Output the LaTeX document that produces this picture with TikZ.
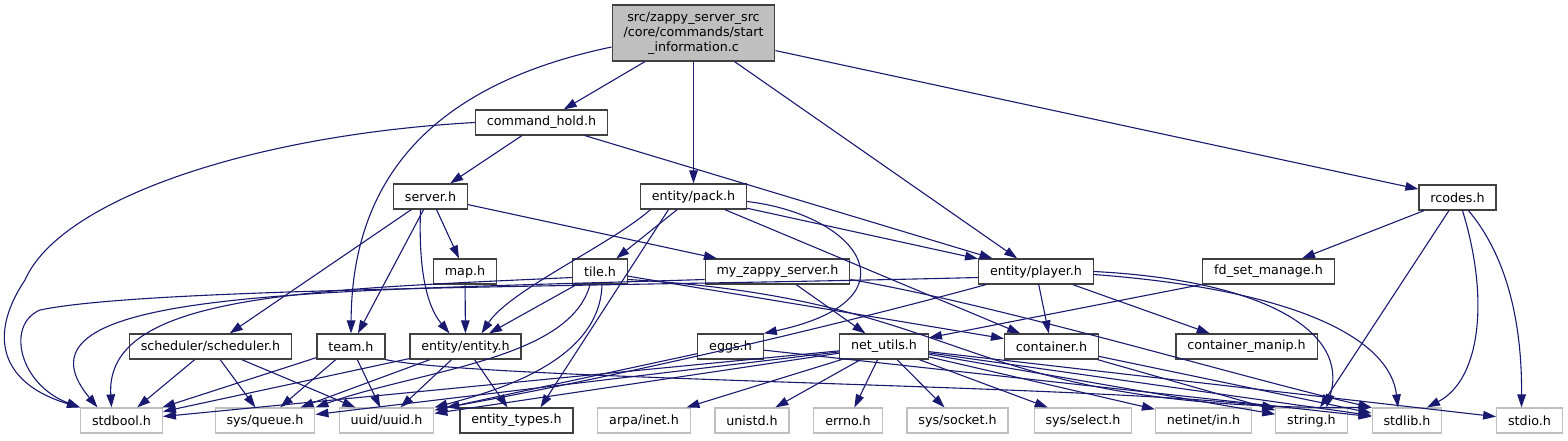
\documentclass[tikz,border=0pt]{standalone}
\usepackage{fontspec}
\setmainfont{DejaVu Sans}
\usetikzlibrary{arrows.meta,calc}
\definecolor{edgeblue}{RGB}{25,25,112}
\definecolor{boxgray}{RGB}{191,191,191}
\definecolor{boxline}{RGB}{64,64,64}

\begin{document}
\begin{tikzpicture}[
  x=0.5pt, y=-0.5pt,
  >={Triangle[length=6.5pt,width=4.3pt]},
  every node/.style={font=\fontsize{6.35}{7.5}\selectfont},
  filebox/.style={rectangle, draw=boxline, fill=white, line width=0.6pt, inner xsep=5.7pt, inner ysep=0pt, minimum height=12.5pt},
  sysbox/.style={filebox, draw=boxgray},
  rootbox/.style={filebox, fill=boxgray, align=center, minimum height=28pt},
  incl/.style={->, draw=edgeblue, line width=0.55pt},
]
\useasboundingbox (0,0) rectangle (1568,440);

% ---- level 0: the source file ----
\node[rootbox] (root) at (693.5,33) {src/zappy\_server\_src\\/core/commands/start\\\_information.c};

% ---- level 1 ----
\node[filebox] (cmdhold) at (541.5,122.5) {command\_hold.h};

% ---- level 2 ----
\node[filebox] (server) at (430.5,196.5) {server.h};
\node[filebox] (pack)   at (693.5,196.5) {entity/pack.h};
\node[filebox] (rcodes) at (1457.5,197.5) {rcodes.h};

% ---- level 3 ----
\node[filebox] (map)     at (465,271.5)    {map.h};
\node[filebox] (tile)    at (600,271.5)    {tile.h};
\node[filebox] (myzappy) at (777.5,271.5)  {my\_zappy\_server.h};
\node[filebox] (player)  at (1036,271.5)   {entity/player.h};
\node[filebox] (fdset)   at (1268.5,271.5) {fd\_set\_manage.h};

% ---- level 4 ----
\node[filebox] (scheduler) at (210.5,346.5)  {scheduler/scheduler.h};
\node[filebox] (team)      at (351,346.5)    {team.h};
\node[filebox] (entity)    at (465.5,346.5)  {entity/entity.h};
\node[filebox] (eggs)      at (730.5,346.5)  {eggs.h};
\node[filebox] (netutils)  at (884,346.5)    {net\_utils.h};
\node[filebox] (container) at (1051.5,346.5) {container.h};
\node[filebox] (contmanip) at (1246.5,346.5) {container\_manip.h};

% ---- level 5: system headers ----
\node[sysbox]  (stdbool)   at (121.5,420.5)  {stdbool.h};
\node[sysbox]  (sysqueue)  at (265,420.5)    {sys/queue.h};
\node[sysbox]  (uuid)      at (386.5,420.5)  {uuid/uuid.h};
\node[filebox] (etypes)    at (516.5,420.5)  {entity\_types.h};
\node[sysbox]  (arpainet)  at (644,420.5)    {arpa/inet.h};
\node[sysbox]  (unistd)    at (752,420.5)    {unistd.h};
\node[sysbox]  (errno)     at (848,420.5)    {errno.h};
\node[sysbox]  (syssocket) at (957.5,420.5)  {sys/socket.h};
\node[sysbox]  (sysselect) at (1083,420.5)   {sys/select.h};
\node[sysbox]  (netinetin) at (1203.5,420.5) {netinet/in.h};
\node[sysbox]  (stringh)   at (1311.5,420.5) {string.h};
\node[sysbox]  (stdlib)    at (1407,420.5)   {stdlib.h};
\node[sysbox]  (stdio)     at (1529.5,420.5) {stdio.h};

% ---- includes of the source file ----
\draw[incl] (root) -- (cmdhold);
\draw[incl] (root) -- (pack);
\draw[incl] (root) -- (player);
\draw[incl] (root) -- (rcodes);
\draw[incl] ([yshift=-7pt]root.west) .. controls (430,85) and (352,180) .. (team.north);

% ---- command_hold.h ----
\draw[incl] (cmdhold) -- (server);
\draw[incl] (cmdhold) -- (player);
\draw[incl] (cmdhold.west) .. controls (250,135) and (60,200) .. (25,280)
  .. controls (-15,340) and (5,385) .. (stdbool.north west);

% ---- server.h ----
\draw[incl] (server) -- (scheduler);
\draw[incl] (server) -- (team);
\draw[incl] (server) -- (map);
\draw[incl] (server) -- (myzappy);
\draw[incl] ($(server.south)+(-10,0)$) .. controls (418,280) and (430,310) .. ($(entity.north)+(-16,0)$);

% ---- entity/pack.h ----
\draw[incl] (pack) -- (tile);
\draw[incl] (pack) -- (player);
\draw[incl] (pack) -- (container);
\draw[incl] ($(pack.south)+(-25,0)$) -- ($(etypes.north)+(24,0)$);
\draw[incl] ($(pack.south)+(-43,0)$) .. controls (610,245) and (510,290) .. ($(entity.north)+(16,0)$);
\draw[incl] ([yshift=-2.5pt]pack.east) .. controls (860,215) and (920,300) .. (eggs.north east);

% ---- rcodes.h ----
\draw[incl] (rcodes) -- (fdset);
\draw[incl] (rcodes) -- (stringh);
\draw[incl] ($(rcodes.south)+(5,0)$) .. controls (1490,300) and (1480,380) .. ($(stdlib.north)+(20,0)$);
\draw[incl] ($(rcodes.south)+(11,0)$) .. controls (1510,260) and (1522,330) .. ($(stdio.north)+(-8,0)$);

% ---- map.h, fd_set_manage.h, my_zappy_server.h ----
\draw[incl] (map) -- (entity);
\draw[incl] (fdset) -- (netutils);
\draw[incl] (myzappy) -- (netutils);
\draw[incl] ([yshift=-4pt]myzappy.east) .. controls (1000,305) and (1250,380) .. (stdlib.north west);
\draw[incl] ([yshift=-4pt]myzappy.west) .. controls (300,292) and (0,290) .. ($(stdbool.north)+(-24,0)$);

% ---- tile.h ----
\draw[incl] (tile) -- (entity);
\draw[incl] (tile) -- (container);
\draw[incl] ([yshift=-4pt]tile.east) .. controls (980,300) and (950,410) .. (stdlib.north west);
\draw[incl] ([yshift=-3pt]tile.west) .. controls (300,290) and (105,295) .. ($(stdbool.north)+(-10,0)$);
\draw[incl] ($(tile.south)+(-10,0)$) .. controls (570,360) and (420,370) .. (sysqueue.north east);
\draw[incl] ($(tile.south)+(2,0)$) .. controls (600,360) and (500,390) .. (uuid.north east);

% ---- entity/player.h ----
\draw[incl] (player) -- (container);
\draw[incl] (player) -- (contmanip);
\draw[incl] ([yshift=-3pt]player.west) .. controls (600,287) and (150,287) .. (40,310)
  .. controls (5,325) and (20,385) .. (stdbool.north west);
\draw[incl] ($(player.south)+(-50,0)$) .. controls (820,330) and (600,380) .. ($(uuid.north east)+(12,0)$);
\draw[incl] (player.east) .. controls (1260,280) and (1350,330) .. ($(stringh.north)+(15,0)$);
\draw[incl] ([yshift=-1.5pt]player.east) .. controls (1300,290) and (1390,340) .. ($(stdlib.north)+(-9,0)$);

% ---- scheduler.h, team.h, entity.h, eggs.h ----
\draw[incl] (scheduler) -- (stdbool);
\draw[incl] (scheduler) -- (sysqueue);
\draw[incl] (scheduler) -- (uuid);
\draw[incl] (team) -- (stdbool);
\draw[incl] (team) -- (sysqueue);
\draw[incl] (team) -- (uuid);
\draw[incl] (team.south east) .. controls (480,380) and (1100,385) .. (stringh.north west);
\draw[incl] (entity) -- (stdbool);
\draw[incl] (entity) -- (sysqueue);
\draw[incl] (entity) -- (uuid);
\draw[incl] (entity) -- (etypes);
\draw[incl] (eggs) -- (uuid);
\draw[incl] (eggs) -- (stdlib);

% ---- net_utils.h ----
\foreach \target in {stdbool,sysqueue,uuid,arpainet,unistd,errno,syssocket,sysselect,netinetin,stringh,stdlib,stdio}
  \draw[incl] (netutils) -- (\target);

% ---- container.h ----
\draw[incl] (container) -- (stringh);
\draw[incl] (container) -- (stdlib);

\end{tikzpicture}
\end{document}
